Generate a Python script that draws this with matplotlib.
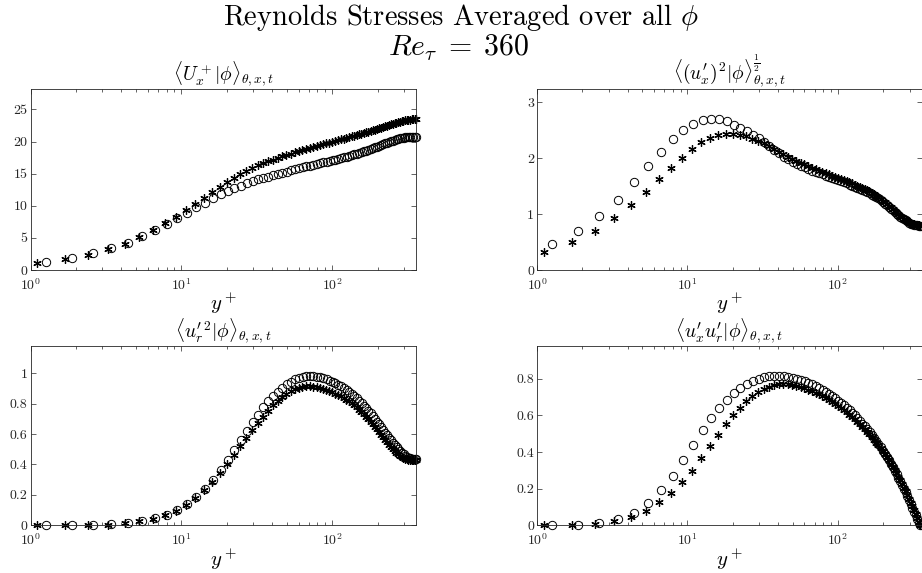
import matplotlib
matplotlib.use("Agg")
import matplotlib.pyplot as plt
from matplotlib.ticker import FuncFormatter, LogLocator, NullFormatter

plt.rcParams['font.family'] = 'serif'
plt.rcParams['font.serif'] = ['cmr10']
plt.rcParams['mathtext.fontset'] = 'cm'
plt.rcParams['axes.formatter.use_mathtext'] = True

# y+ positions of the two data sets (asterisks / circles)
yp_star = [1.11, 1.70, 2.42, 3.25, 4.21, 5.28, 6.50, 7.80, 9.20, 10.75,
           12.4, 14.15, 16.0, 18.0, 20.1, 22.3, 24.6, 27.0, 29.5, 32.1,
           34.8, 37.6, 40.5, 43.5, 46.6, 49.8, 53.1, 56.5, 60.0, 63.6,
           67.3, 71.1, 75.0, 79.0, 83.1, 87.3, 91.6, 96.0, 100.5, 105.1,
           109.8, 114.6, 119.5, 124.5, 129.6, 134.8, 140.1, 145.5, 151.0, 156.6,
           162.3, 168.1, 174.0, 180.0, 186.1, 192.3, 198.6, 205.0, 211.5, 218.1,
           224.8, 231.6, 238.5, 245.5, 252.6, 259.8, 267.1, 274.5, 282.0, 289.6,
           297.3, 305.1, 313.0, 321.0, 329.1, 337.3, 345.6, 354.0, 360.0]
yp_circ = [1.26, 1.88, 2.60, 3.44, 4.40, 5.48, 6.70, 8.00, 9.40, 10.95,
           12.6, 14.35, 16.2, 18.2, 20.3, 22.5, 24.8, 27.2, 29.7, 32.3,
           35.0, 37.8, 40.7, 43.7, 46.8, 50.0, 53.3, 56.7, 60.2, 63.8,
           67.5, 71.3, 75.2, 79.2, 83.3, 87.5, 91.8, 96.2, 100.7, 105.3,
           110.0, 114.8, 119.7, 124.7, 129.8, 135.0, 140.3, 145.7, 151.2, 156.8,
           162.5, 168.3, 174.2, 180.2, 186.3, 192.5, 198.8, 205.2, 211.7, 218.3,
           225.0, 231.8, 238.7, 245.7, 252.8, 260.0, 267.3, 274.7, 282.2, 289.8,
           297.5, 305.3, 313.2, 321.2, 329.3, 337.5, 345.8, 354.2, 360.0]

# mean velocity
U_star = [1.05, 1.70, 2.38, 3.20, 4.10, 5.10, 6.20, 7.25, 8.30, 9.30,
          10.35, 11.25, 12.10, 12.95, 13.65, 14.30, 14.90, 15.45, 15.90, 16.30,
          16.65, 16.95, 17.20, 17.45, 17.70, 17.90, 18.10, 18.30, 18.48, 18.65,
          18.82, 18.98, 19.13, 19.28, 19.43, 19.57, 19.70, 19.82, 19.95, 20.08,
          20.20, 20.32, 20.44, 20.56, 20.68, 20.80, 20.91, 21.02, 21.13, 21.24,
          21.35, 21.45, 21.56, 21.66, 21.77, 21.87, 21.97, 22.07, 22.17, 22.27,
          22.37, 22.46, 22.56, 22.65, 22.74, 22.83, 22.92, 23.00, 23.08, 23.15,
          23.22, 23.28, 23.33, 23.38, 23.42, 23.45, 23.47, 23.48, 23.48]
U_circ = [1.22, 1.88, 2.58, 3.38, 4.28, 5.22, 6.18, 7.12, 8.05, 8.95,
          9.75, 10.5, 11.2, 11.85, 12.35, 12.8, 13.15, 13.5, 13.8, 14.1,
          14.35, 14.55, 14.75, 14.95, 15.15, 15.32, 15.5, 15.67, 15.83, 15.98,
          16.12, 16.25, 16.38, 16.5, 16.62, 16.74, 16.86, 16.97, 17.08, 17.2,
          17.31, 17.42, 17.53, 17.64, 17.76, 17.87, 17.98, 18.1, 18.22, 18.34,
          18.46, 18.58, 18.7, 18.82, 18.95, 19.08, 19.2, 19.33, 19.46, 19.58,
          19.7, 19.82, 19.93, 20.04, 20.14, 20.24, 20.33, 20.41, 20.48, 20.54,
          20.59, 20.63, 20.66, 20.68, 20.7, 20.71, 20.72, 20.72, 20.72]

# rms of u_x'
urms_star = [0.33, 0.51, 0.70, 0.93, 1.17, 1.40, 1.63, 1.83, 2.01, 2.17,
             2.29, 2.37, 2.42, 2.44, 2.44, 2.42, 2.39, 2.35, 2.31, 2.27,
             2.22, 2.17, 2.12, 2.07, 2.03, 1.99, 1.95, 1.92, 1.89, 1.86,
             1.83, 1.80, 1.78, 1.75, 1.73, 1.71, 1.69, 1.67, 1.65, 1.63,
             1.61, 1.59, 1.57, 1.55, 1.53, 1.51, 1.49, 1.47, 1.45, 1.43,
             1.41, 1.38, 1.36, 1.33, 1.30, 1.27, 1.24, 1.21, 1.18, 1.15,
             1.12, 1.09, 1.06, 1.03, 1.00, 0.97, 0.94, 0.92, 0.90, 0.88,
             0.86, 0.84, 0.83, 0.82, 0.81, 0.80, 0.80, 0.79, 0.79]
urms_circ = [0.47, 0.70, 0.96, 1.26, 1.57, 1.86, 2.12, 2.34, 2.51, 2.61,
             2.68, 2.70, 2.70, 2.66, 2.60, 2.54, 2.48, 2.42, 2.36, 2.29,
             2.22, 2.15, 2.09, 2.03, 1.98, 1.94, 1.90, 1.87, 1.84, 1.81,
             1.78, 1.76, 1.73, 1.71, 1.69, 1.67, 1.65, 1.63, 1.61, 1.59,
             1.57, 1.55, 1.53, 1.51, 1.49, 1.47, 1.45, 1.43, 1.41, 1.39,
             1.37, 1.35, 1.33, 1.30, 1.28, 1.25, 1.22, 1.19, 1.16, 1.13,
             1.10, 1.07, 1.04, 1.01, 0.98, 0.95, 0.93, 0.91, 0.89, 0.87,
             0.85, 0.83, 0.82, 0.81, 0.80, 0.80, 0.79, 0.79, 0.79]

# u_r'^2
urr_star = [0.0, 0.0, 0.001, 0.004, 0.012, 0.026, 0.043, 0.065, 0.097, 0.135,
            0.18, 0.23, 0.288, 0.347, 0.405, 0.462, 0.52, 0.575, 0.625, 0.672,
            0.715, 0.755, 0.79, 0.82, 0.845, 0.866, 0.882, 0.895, 0.905, 0.911,
            0.914, 0.914, 0.912, 0.908, 0.902, 0.896, 0.89, 0.882, 0.875, 0.867,
            0.858, 0.848, 0.838, 0.827, 0.815, 0.802, 0.789, 0.775, 0.76, 0.745,
            0.73, 0.714, 0.698, 0.682, 0.665, 0.648, 0.631, 0.614, 0.597, 0.58,
            0.563, 0.547, 0.531, 0.516, 0.502, 0.489, 0.477, 0.466, 0.457, 0.449,
            0.443, 0.438, 0.434, 0.431, 0.429, 0.428, 0.427, 0.427, 0.427]
urr_circ = [0.0, 0.0, 0.002, 0.006, 0.015, 0.028, 0.045, 0.068, 0.10, 0.142,
            0.185, 0.24, 0.30, 0.365, 0.43, 0.497, 0.56, 0.622, 0.678, 0.728,
            0.775, 0.815, 0.85, 0.88, 0.906, 0.928, 0.946, 0.96, 0.971, 0.978,
            0.982, 0.983, 0.981, 0.978, 0.973, 0.967, 0.96, 0.952, 0.944, 0.935,
            0.925, 0.914, 0.903, 0.891, 0.878, 0.864, 0.85, 0.835, 0.82, 0.804,
            0.788, 0.771, 0.754, 0.736, 0.718, 0.70, 0.682, 0.664, 0.646, 0.628,
            0.61, 0.592, 0.575, 0.558, 0.542, 0.527, 0.512, 0.499, 0.487, 0.476,
            0.466, 0.458, 0.451, 0.446, 0.442, 0.439, 0.437, 0.436, 0.436]

# u_x' u_r'
uxr_star = [0.0, 0.002, 0.009, 0.024, 0.045, 0.078, 0.125, 0.178, 0.235, 0.298,
            0.367, 0.433, 0.495, 0.553, 0.602, 0.643, 0.678, 0.706, 0.728, 0.746,
            0.757, 0.765, 0.769, 0.771, 0.77, 0.767, 0.762, 0.756, 0.749, 0.741,
            0.733, 0.724, 0.715, 0.705, 0.695, 0.685, 0.674, 0.663, 0.652, 0.641,
            0.629, 0.617, 0.605, 0.592, 0.579, 0.566, 0.553, 0.539, 0.525, 0.511,
            0.497, 0.482, 0.467, 0.452, 0.436, 0.42, 0.404, 0.388, 0.371, 0.354,
            0.337, 0.319, 0.301, 0.283, 0.264, 0.245, 0.226, 0.206, 0.186, 0.166,
            0.145, 0.124, 0.103, 0.082, 0.061, 0.04, 0.019, 0.004, 0.0]
uxr_circ = [0.0, 0.004, 0.015, 0.033, 0.065, 0.124, 0.191, 0.271, 0.355, 0.44,
            0.518, 0.585, 0.642, 0.687, 0.724, 0.751, 0.773, 0.79, 0.801, 0.809,
            0.814, 0.816, 0.816, 0.815, 0.812, 0.807, 0.801, 0.794, 0.786, 0.778,
            0.769, 0.76, 0.75, 0.739, 0.728, 0.717, 0.705, 0.693, 0.681, 0.668,
            0.655, 0.642, 0.628, 0.614, 0.6, 0.585, 0.57, 0.555, 0.54, 0.524,
            0.508, 0.492, 0.476, 0.459, 0.442, 0.425, 0.408, 0.39, 0.372, 0.354,
            0.336, 0.317, 0.298, 0.279, 0.26, 0.24, 0.22, 0.2, 0.18, 0.159,
            0.138, 0.117, 0.096, 0.075, 0.054, 0.033, 0.014, 0.002, 0.0]

titles = [r'$\langle U_x^+|\phi\rangle_{\theta,x,t}$',
          r'$\langle (u_x^{\prime})^2|\phi\rangle_{\theta,x,t}^{\frac{1}{2}}$',
          r'$\langle {u_r^{\prime}}^2|\phi\rangle_{\theta,x,t}$',
          r'$\langle u_x^{\prime} u_r^{\prime}|\phi\rangle_{\theta,x,t}$']
panels = [(U_star, U_circ), (urms_star, urms_circ),
          (urr_star, urr_circ), (uxr_star, uxr_circ)]
yticks = [[0, 5, 10, 15, 20, 25], [0, 1, 2, 3],
          [0, 0.2, 0.4, 0.6, 0.8, 1], [0, 0.2, 0.4, 0.6, 0.8]]

fig = plt.figure(figsize=(9.22, 5.73), dpi=100)
W, H = 922, 573
boxes = [(30.5, 89, 416, 270), (537, 89, 921.5, 270),
         (30.5, 346, 416, 525.3), (537, 346, 921.5, 525.3)]

star = (6, 2, 0)
for k, (x0, y0, x1, y1) in enumerate(boxes):
    ax = fig.add_axes([x0 / W, 1 - y1 / H, (x1 - x0) / W, (y1 - y0) / H])
    s, c = panels[k]
    ax.plot(yp_star, s, linestyle='none', marker=star, ms=6, mew=0.9,
            color='k', clip_on=False)
    ax.plot(yp_circ, c, linestyle='none', marker='o', ms=6, mew=0.7,
            mfc='none', mec='k', clip_on=False)
    ax.set_xscale('log')
    ax.set_xlim(1, 360)
    top = 1.2 * max(max(s), max(c))
    ax.set_ylim(0, top)
    ax.set_yticks(yticks[k])
    ax.yaxis.set_major_formatter(FuncFormatter(lambda v, p: '%g' % v))
    ax.xaxis.set_minor_locator(LogLocator(base=10, subs=range(2, 10), numticks=20))
    ax.xaxis.set_minor_formatter(NullFormatter())
    ax.tick_params(which='both', direction='in', top=True, right=True,
                   labelsize=10, colors='0.15')
    ax.tick_params(axis='x', pad=5)
    ax.tick_params(axis='y', pad=2)
    ax.tick_params(which='major', length=3.5, width=0.5)
    ax.tick_params(which='minor', length=2, width=0.5)
    for sp in ax.spines.values():
        sp.set_linewidth(0.6)
        sp.set_color('0.15')
    ax.set_title(titles[k], fontsize=14, pad=2)
    ax.set_xlabel(r'$y^+$', fontsize=15, labelpad=-1)

fig.text(0.5, 0.969, r'Reynolds Stresses Averaged over all $\phi$',
         ha='center', va='center', fontsize=20.5)
fig.text(0.497, 0.917, r'$Re_\tau\;=\;360$', ha='center', va='center',
         fontsize=21.5)

fig.savefig('out.png', dpi=100)
